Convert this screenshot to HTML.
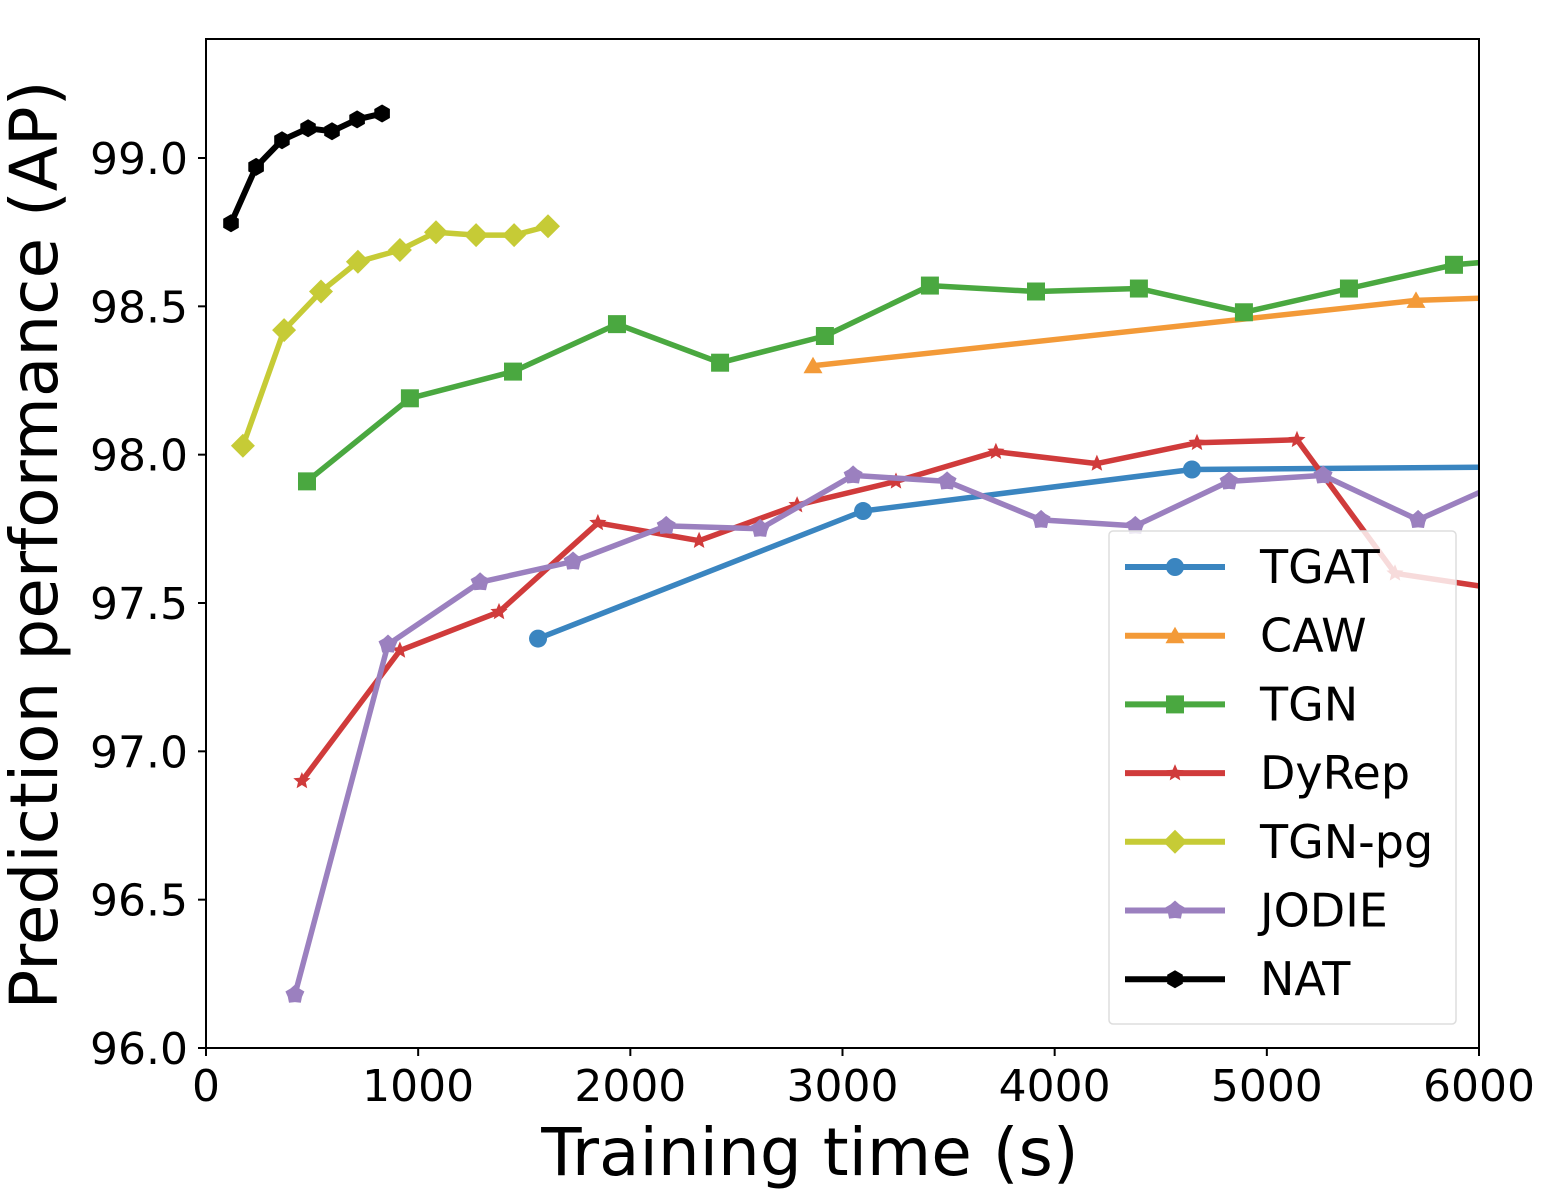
<!DOCTYPE html>
<html><head><meta charset="utf-8">
<style>
html,body{margin:0;padding:0;background:#fff;}
svg{display:block;font-family:"Liberation Sans","DejaVu Sans",sans-serif;}
</style></head>
<body>
<svg id="chart" width="1542" height="1196" viewBox="0 0 1542 1196" xmlns="http://www.w3.org/2000/svg">
<defs><clipPath id="plotclip"><rect x="206" y="39" width="1273" height="1009"/></clipPath></defs>
<rect x="0" y="0" width="1542" height="1196" fill="#fff"/>
<g id="series" clip-path="url(#plotclip)"></g>
<rect x="206" y="39" width="1273" height="1009" fill="none" stroke="#000" stroke-width="2"/>
<g id="axes"></g>
<text x="810" y="1175" font-size="66" text-anchor="middle" font-family="DejaVu Sans, sans-serif">Training time (s)</text>
<text transform="translate(57,545) rotate(-90)" font-size="66" text-anchor="middle" font-family="DejaVu Sans, sans-serif">Prediction performance (AP)</text>
<g id="legend"></g>
</svg>
<script>
const xTicks = [0,1000,2000,3000,4000,5000,6000];
const yTicks = [96.0,96.5,97.0,97.5,98.0,98.5,99.0];
const names = ["TGAT","CAW","TGN","DyRep","TGN-pg","JODIE","NAT"];
const colors = ["#3a85c0","#f39a38","#4aa840","#d03b3b","#c6cb36","#9b80bf","#000000"];
const markers = ["circle","triangle","square","star","diamond","pentagon","hexagon"];
const tgatX = [1565,3097,4647,6500];
const tgatY = [97.38,97.81,97.95,97.96];
const cawX = [2861,5703,6500];
const cawY = [98.30,98.52,98.54];
const tgnX = [476,961,1447,1937,2423,2917,3412,3912,4397,4892,5387,5882,6380];
const tgnY = [97.91,98.19,98.28,98.44,98.31,98.40,98.57,98.55,98.56,98.48,98.56,98.64,98.67];
const dyrepX = [452,914,1381,1847,2324,2786,3252,3723,4199,4671,5142,5604,6070];
const dyrepY = [96.90,97.34,97.47,97.77,97.71,97.83,97.91,98.01,97.97,98.04,98.05,97.60,97.55];
const tgnpgX = [174,368,542,716,914,1084,1273,1452,1612];
const tgnpgY = [98.03,98.42,98.55,98.65,98.69,98.75,98.74,98.74,98.77];
const jodieX = [419,858,1292,1730,2169,2612,3050,3493,3936,4380,4822,5265,5713,6150];
const jodieY = [96.18,97.36,97.57,97.64,97.76,97.75,97.93,97.91,97.78,97.76,97.91,97.93,97.78,97.92];
const natX = [118,236,358,481,594,712,830];
const natY = [98.78,98.97,99.06,99.10,99.09,99.13,99.15];

const NS="http://www.w3.org/2000/svg";
const X0=206,X1=1479,Y0=1048,Y1=158;
function sx(v){return X0+(v-0)/6000*(X1-X0);}
function sy(v){return Y0-(v-96)/3*(Y0-Y1);}
function mk(tag,attrs,parent){const e=document.createElementNS(NS,tag);for(const k in attrs)e.setAttribute(k,attrs[k]);parent.appendChild(e);return e;}
function poly(cx,cy,r,n,rot,inner){let p=[];const m=inner?2*n:n;for(let i=0;i<m;i++){const rr=inner&&i%2?r*inner:r;const a=rot+i*Math.PI*2/m;p.push((cx+rr*Math.cos(a)).toFixed(1)+","+(cy+rr*Math.sin(a)).toFixed(1));}return p.join(" ");}
function marker(type,cx,cy,color,parent){
  let e;
  if(type==="circle")e=mk("circle",{cx:cx,cy:cy,r:9,fill:color},parent);
  else if(type==="square")e=mk("rect",{x:cx-9,y:cy-9,width:18,height:18,fill:color},parent);
  else if(type==="triangle")e=mk("polygon",{points:poly(cx,cy+2,11,3,-Math.PI/2),fill:color},parent);
  else if(type==="star")e=mk("polygon",{points:poly(cx,cy,9,5,-Math.PI/2,0.45),fill:color},parent);
  else if(type==="diamond")e=mk("polygon",{points:poly(cx,cy,12,4,-Math.PI/2),fill:color},parent);
  else if(type==="pentagon")e=mk("polygon",{points:poly(cx,cy,10,5,-Math.PI/2,0.75),fill:color},parent);
  else e=mk("polygon",{points:poly(cx,cy,9,6,-Math.PI/2),fill:color},parent);
  return e;
}
const axes=document.getElementById("axes");
xTicks.forEach(t=>{
  const l=mk("line",{x1:sx(t),x2:sx(t),y1:Y0,y2:Y0+8,stroke:"#000","stroke-width":2},axes);
  
  
  const tx=mk("text",{x:sx(t),y:1101,"font-size":44,"text-anchor":"middle","font-family":"DejaVu Sans, sans-serif"},axes);
  
  
  tx.textContent=t;
});
yTicks.forEach(t=>{
  const l=mk("line",{x1:X0-8,x2:X0,y1:sy(t),y2:sy(t),stroke:"#000","stroke-width":2},axes);
  
  
  const tx=mk("text",{x:188,y:sy(t)+16,"font-size":44,"text-anchor":"end","font-family":"DejaVu Sans, sans-serif"},axes);
  
  
  tx.textContent=t.toFixed(1);
});
const xs=[tgatX,cawX,tgnX,dyrepX,tgnpgX,jodieX,natX];
const ys=[tgatY,cawY,tgnY,dyrepY,tgnpgY,jodieY,natY];
const sg=document.getElementById("series");
names.forEach((n,i)=>{
  const g=mk("g",{},sg);
  
  
  const pts=xs[i].map((x,j)=>sx(x).toFixed(1)+","+sy(ys[i][j]).toFixed(1)).join(" ");
  const pl=mk("polyline",{points:pts,fill:"none",stroke:colors[i],"stroke-width":i===6?6:5.5,"stroke-linejoin":"round","stroke-linecap":"square"},g);
  
  
  xs[i].forEach((x,j)=>{
    const m=marker(markers[i],sx(x),sy(ys[i][j]),colors[i],g);
    
    
  });
});
const lg=document.getElementById("legend");
const box=mk("rect",{x:1109,y:531,width:347,height:493,rx:4,fill:"#fff","fill-opacity":0.82,stroke:"#ddd","stroke-width":1.5},lg);


names.forEach((n,i)=>{
  const y=567+i*68.7;
  const g=mk("g",{},lg);
  
  
  mk("line",{x1:1125,x2:1225,y1:y,y2:y,stroke:colors[i],"stroke-width":6},g);
  marker(markers[i],1175,y,colors[i],g);
  const t=mk("text",{x:1260,y:y+16,"font-size":46,"font-family":"DejaVu Sans, sans-serif"},g);
  t.textContent=n;
});
</script>
</body></html>
